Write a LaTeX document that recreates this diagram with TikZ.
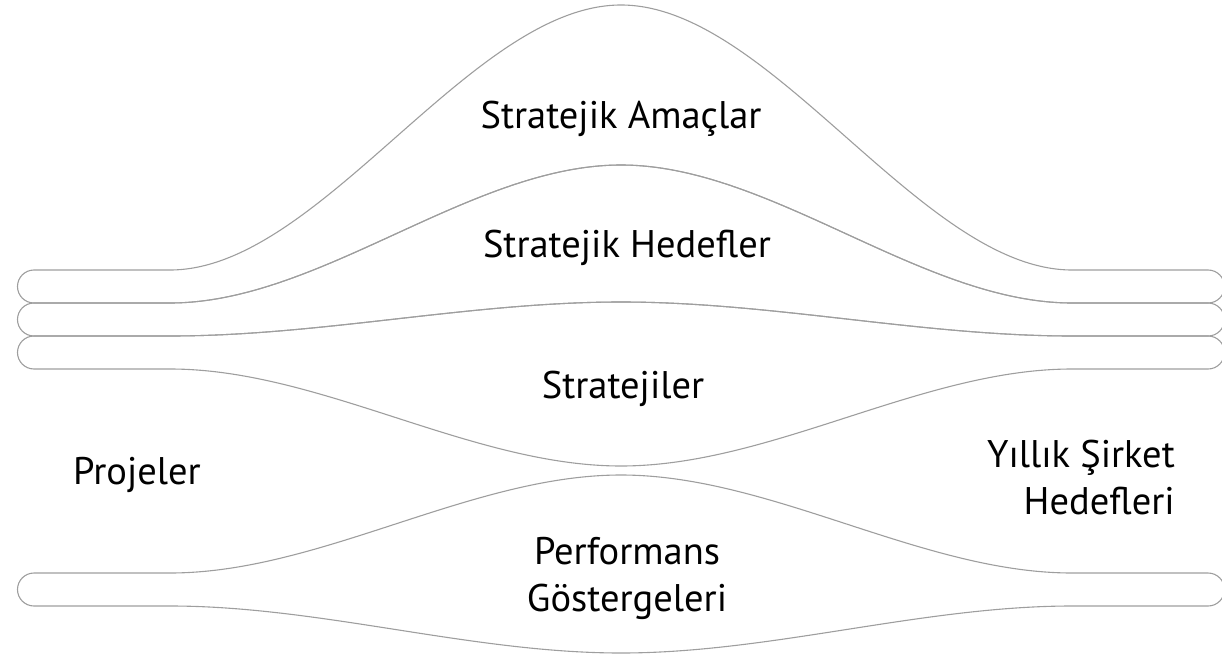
\documentclass[tikz,border=0pt]{standalone}
\usepackage{fontspec}
\setmainfont{PT Sans}
\usetikzlibrary{positioning}

\tikzset{
  band/.style={draw=black!38, line width=1.1pt},
  tag/.style={font=\fontsize{38.5}{47}\selectfont, inner sep=0pt, align=center}
}

\begin{document}
\begin{tikzpicture}[x=1pt, y=-1pt]
  \useasboundingbox (0,0) rectangle (1222,655);

  % Band 1: Stratejik Amaclar
  \draw[band] (34,270) -- (170,270) .. controls (320,270) and (471,5) .. (621,5)
    .. controls (771,5) and (922,270) .. (1072,270) -- (1208,270) arc (90:-90:16.5pt)
    -- (1072,303) .. controls (922,303) and (771,165) .. (621,165)
    .. controls (471,165) and (320,303) .. (170,303) -- (34,303) arc (270:90:16.5pt) -- cycle;

  % Band 2: Stratejik Hedefler
  \draw[band] (34,303) -- (170,303) .. controls (320,303) and (471,165) .. (621,165)
    .. controls (771,165) and (922,303) .. (1072,303) -- (1208,303) arc (90:-90:16.5pt)
    -- (1072,336) .. controls (922,336) and (771,302) .. (621,302)
    .. controls (471,302) and (320,336) .. (170,336) -- (34,336) arc (270:90:16.5pt) -- cycle;

  % Band 3: Stratejiler
  \draw[band] (34,336) -- (170,336) .. controls (320,336) and (471,302) .. (621,302)
    .. controls (771,302) and (922,336) .. (1072,336) -- (1208,336) arc (90:-90:16.5pt)
    -- (1072,369) .. controls (922,369) and (771,466) .. (621,466)
    .. controls (471,466) and (320,369) .. (170,369) -- (34,369) arc (270:90:16.5pt) -- cycle;

  % Band 4: Performans Gostergeleri
  \draw[band] (34,573) -- (170,573) .. controls (320,573) and (471,475) .. (621,475)
    .. controls (771,475) and (922,573) .. (1072,573) -- (1208,573) arc (90:-90:16.5pt)
    -- (1072,606) .. controls (922,606) and (771,653) .. (621,653)
    .. controls (471,653) and (320,606) .. (170,606) -- (34,606) arc (270:90:16.5pt) -- cycle;

  % Labels
  \node[tag, anchor=base] (amaclar) at (621,129) {Stratejik Amaçlar};
  \node[tag, anchor=base] (hedefler) at (627,257) {Stratejik Hedefler};
  \node[tag, anchor=base] (stratejiler) at (623,398) {Stratejiler};
  \node[tag, anchor=base] (projeler) at (137,484) {Projeler};
  \node[tag, align=right, anchor=east] (yillik) at (1175,478) {Yıllık Şirket\\Hedefleri};
  \node[tag] (performans) at (627,578) {Performans\\Göstergeleri};
\end{tikzpicture}
\end{document}
